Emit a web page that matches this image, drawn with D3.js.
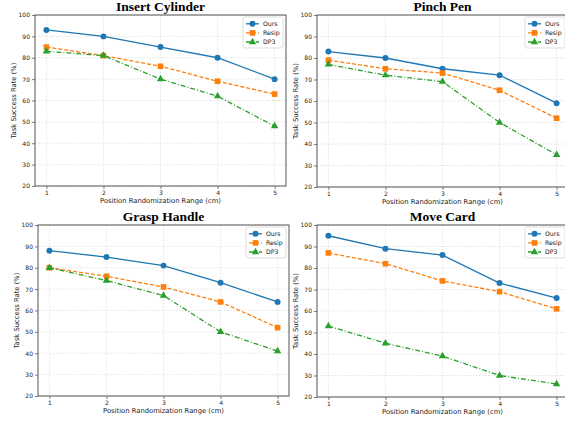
<!DOCTYPE html>
<html>
<head>
<meta charset="utf-8">
<script src="https://cdn.jsdelivr.net/npm/d3@7"></script>
<style>
  body { margin: 0; background: #fff; }
  svg { display: block; }
</style>
</head>
<body>
<svg id="canvas" width="565" height="423"></svg>
<script>
let positions = [1, 2, 3, 4, 5]
let yTicks = [20, 30, 40, 50, 60, 70, 80, 90, 100]
let taskNames = ['Insert Cylinder', 'Pinch Pen', 'Grasp Handle', 'Move Card']
let seriesNames = ['Ours', 'Resip', 'DP3']

let oursRates = [
    [93, 90, 85, 80, 70],
    [83, 80, 75, 72, 59],
    [88, 85, 81, 73, 64],
    [95, 89, 86, 73, 66]
]
let resipRates = [
    [85, 81, 76, 69, 63],
    [79, 75, 73, 65, 52],
    [80, 76, 71, 64, 52],
    [87, 82, 74, 69, 61]
]
let dp3Rates = [
    [83, 81, 70, 62, 48],
    [77, 72, 69, 50, 35],
    [80, 74, 67, 50, 41],
    [53, 45, 39, 30, 26]
]

let colors = ['#1f77b4', '#ff7f0e', '#2ca02c']
let dashes = [null, '4,2', '5,2,1,2']
let symbols = [d3.symbolCircle, d3.symbolSquare, d3.symbolTriangle]
let symbolSizes = [28, 32, 24]

// panel boxes [left, top, right, bottom]
let boxes = [
    [35, 15, 286, 186],
    [317, 15, 568, 187],
    [38, 225, 289, 396],
    [317, 225, 568, 397]
]

let canvas = d3.select('#canvas')

let drawPanel = (i) => {
    let [left, top, right, bottom] = boxes[i]
    let g = canvas.append('g')

    let xScale = d3.scaleLinear().domain([0.8, 5.2]).range([left, right])
    let yScale = d3.scaleLinear().domain([20, 100]).range([bottom, top])

    // grid
    g.selectAll('.gx').data(positions).enter().append('line')
        .attr('x1', d => xScale(d)).attr('x2', d => xScale(d))
        .attr('y1', top).attr('y2', bottom)
        .attr('stroke', '#d8d8d8').attr('stroke-width', 0.7)
        .attr('stroke-dasharray', '1.5,1.5')
    g.selectAll('.gy').data(yTicks).enter().append('line')
        .attr('x1', left).attr('x2', right)
        .attr('y1', d => yScale(d)).attr('y2', d => yScale(d))
        .attr('stroke', '#d8d8d8').attr('stroke-width', 0.7)
        .attr('stroke-dasharray', '1.5,1.5')

    // axes
    let xAxis = d3.axisBottom(xScale).tickValues(positions).tickSize(3).tickPadding(2).tickFormat(d3.format('d'))
    let yAxis = d3.axisLeft(yScale).tickValues(yTicks).tickSize(3).tickPadding(2)
    g.append('g').attr('transform', `translate(0,${bottom})`).call(xAxis)
    g.append('g').attr('transform', `translate(${left},0)`).call(yAxis)
    g.selectAll('.domain').remove()
    g.selectAll('.tick line').attr('stroke', '#444').attr('stroke-width', 0.7)
    g.selectAll('.tick text')
        .attr('font-family', 'DejaVu Sans').attr('font-size', 6).attr('fill', '#222')

    g.append('rect')
        .attr('x', left).attr('y', top)
        .attr('width', right - left).attr('height', bottom - top)
        .attr('fill', 'none').attr('stroke', '#555').attr('stroke-width', 1)

    // series
    let allSeries = [oursRates[i], resipRates[i], dp3Rates[i]]
    allSeries.forEach((values, s) => {
        let line = d3.line()
            .x((d, k) => xScale(positions[k]))
            .y(d => yScale(d))
        g.append('path')
            .attr('d', line(values))
            .attr('fill', 'none')
            .attr('stroke', colors[s])
            .attr('stroke-width', 1.3)
            .attr('stroke-dasharray', dashes[s])
        g.selectAll('.m' + s).data(values).enter().append('path')
            .attr('d', d3.symbol().type(symbols[s]).size(symbolSizes[s]))
            .attr('transform', (d, k) => `translate(${xScale(positions[k])},${yScale(d)})`)
            .attr('fill', colors[s])
    })

    // title
    g.append('text')
        .attr('x', (left + right) / 2).attr('y', top - 4)
        .attr('text-anchor', 'middle')
        .attr('font-family', 'Liberation Serif').attr('font-weight', 'bold')
        .attr('font-size', 13.5).attr('fill', '#000')
        .text(taskNames[i])

    // axis labels
    g.append('text')
        .attr('x', (left + right) / 2).attr('y', bottom + 17)
        .attr('text-anchor', 'middle')
        .attr('font-family', 'DejaVu Sans').attr('font-size', 6.8).attr('fill', '#222')
        .text('Position Randomization Range (cm)')
    g.append('text')
        .attr('transform', `translate(${left - 19},${(top + bottom) / 2}) rotate(-90)`)
        .attr('text-anchor', 'middle')
        .attr('font-family', 'DejaVu Sans').attr('font-size', 6.8).attr('fill', '#222')
        .text('Task Success Rate (%)')

    // legend
    let lx = right - 43
    let ly = top + 2
    g.append('rect')
        .attr('x', lx).attr('y', ly).attr('width', 40).attr('height', 31)
        .attr('rx', 2)
        .attr('fill', '#fff').attr('fill-opacity', 0.85)
        .attr('stroke', '#d0d0d0').attr('stroke-width', 0.7)
    seriesNames.forEach((name, s) => {
        let yy = ly + 6.8 + s * 9.1
        g.append('line')
            .attr('x1', lx + 3).attr('x2', lx + 16)
            .attr('y1', yy).attr('y2', yy)
            .attr('stroke', colors[s]).attr('stroke-width', 1.3)
            .attr('stroke-dasharray', dashes[s])
        g.append('path')
            .attr('d', d3.symbol().type(symbols[s]).size(symbolSizes[s]))
            .attr('transform', `translate(${lx + 9.5},${yy})`)
            .attr('fill', colors[s])
        g.append('text')
            .attr('x', lx + 20).attr('y', yy + 2.2)
            .attr('font-family', 'DejaVu Sans').attr('font-size', 6.2).attr('fill', '#222')
            .text(name)
    })
}

taskNames.forEach((t, i) => drawPanel(i))
</script>
</body>
</html>
